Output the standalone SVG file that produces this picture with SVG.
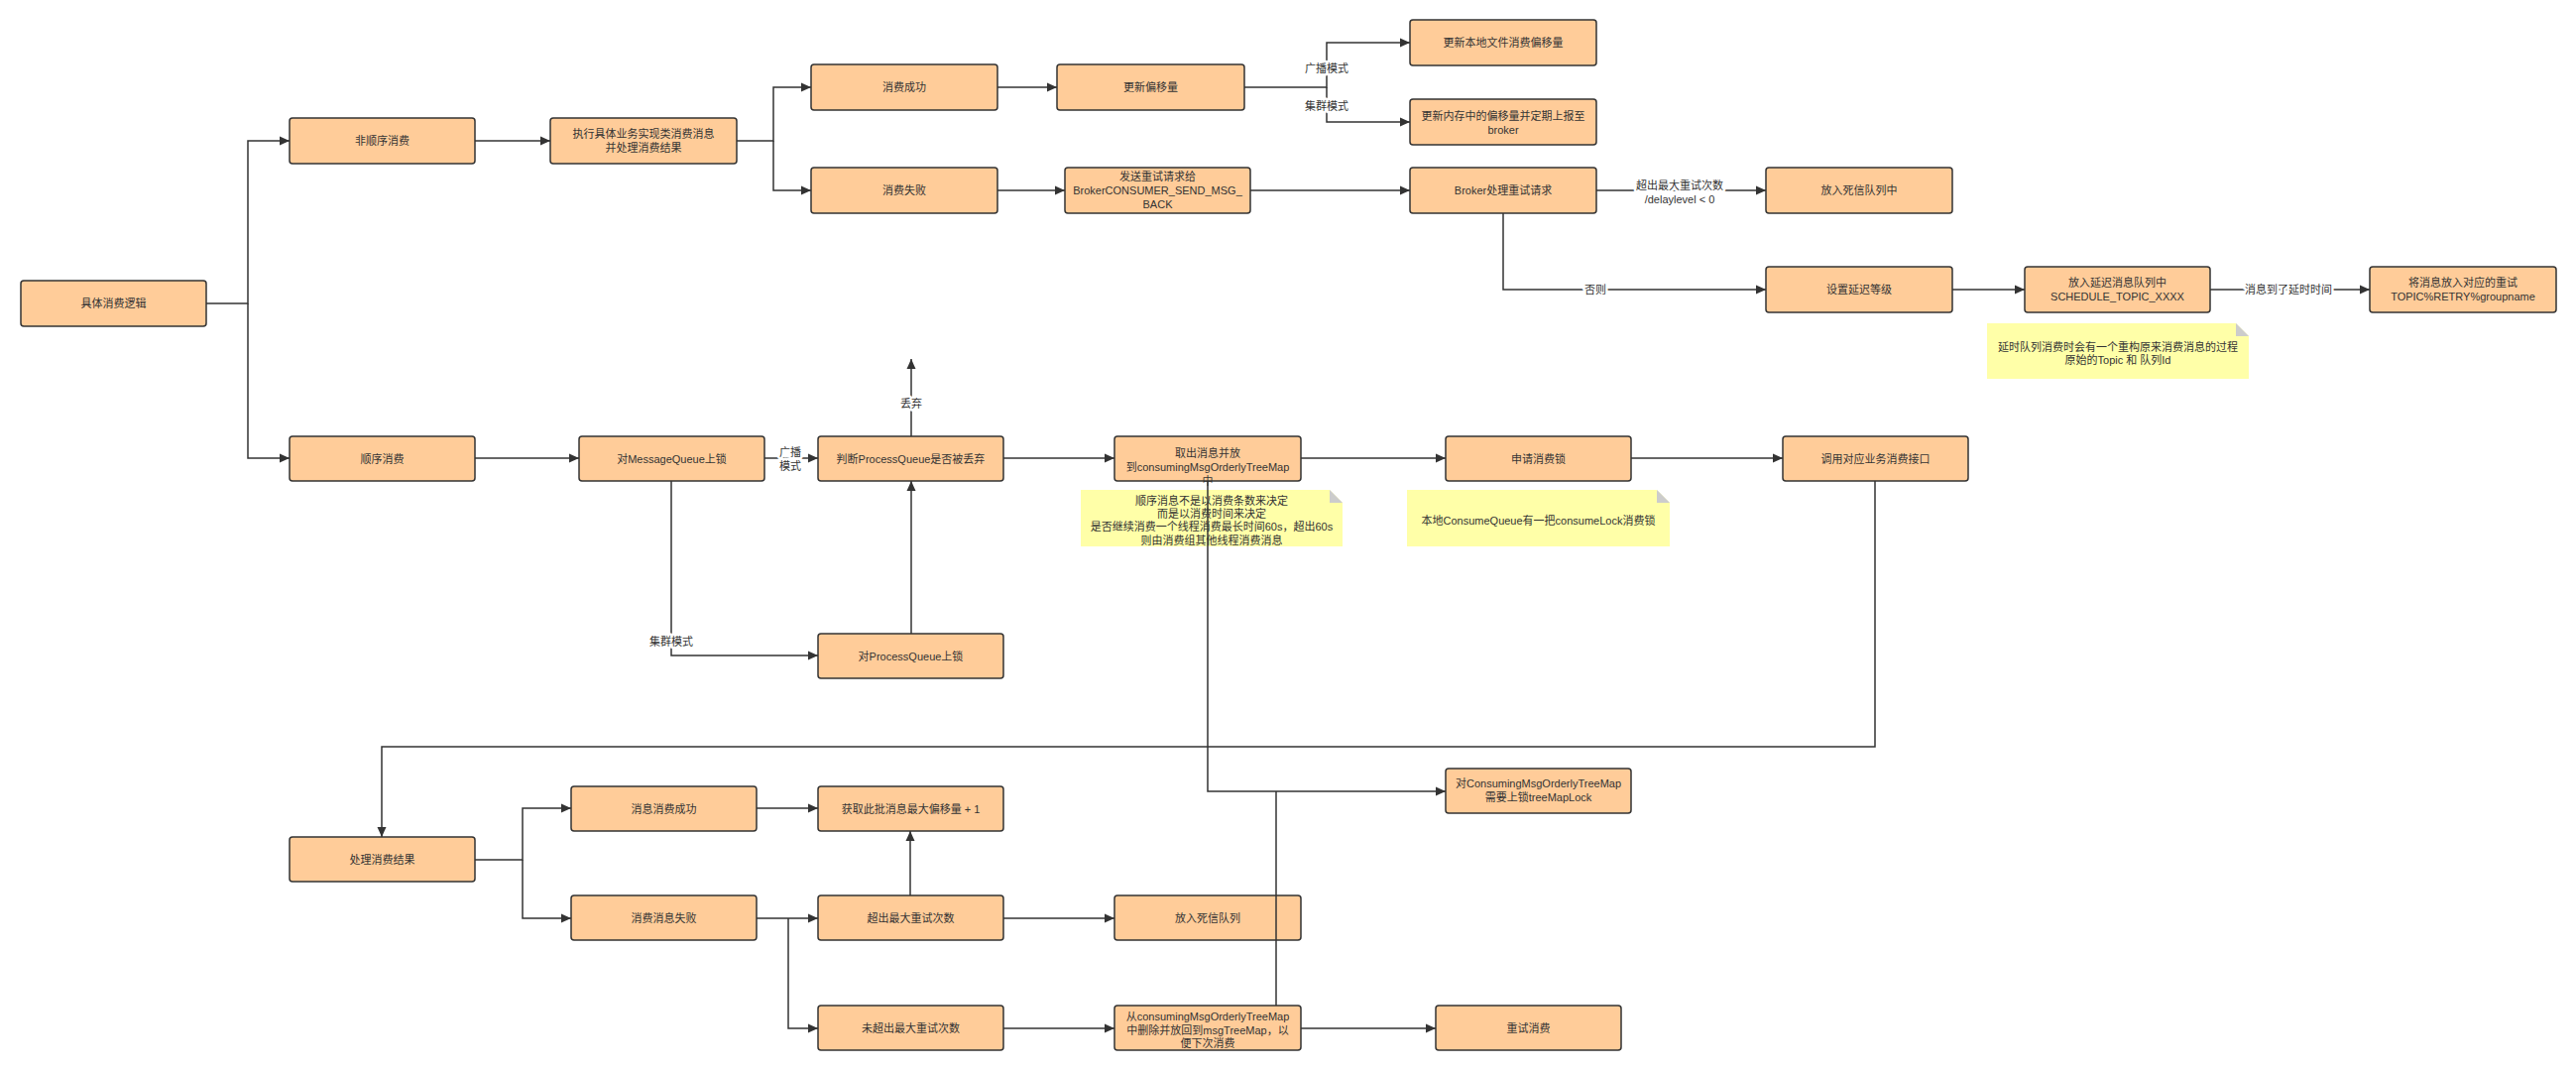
<svg xmlns="http://www.w3.org/2000/svg" width="2598" height="1080" viewBox="0 0 2598 1080">
<defs>
<marker id="ar" viewBox="0 0 10 10" refX="10" refY="5" markerWidth="10" markerHeight="10" markerUnits="userSpaceOnUse" orient="auto">
<path d="M0,0.5 L10,5 L0,9.5 Z" fill="#333"/>
</marker>
<style>
.n rect{fill:#FFCC99;stroke:#333;stroke-width:1.5}
.t{font-family:"Liberation Sans","Noto Sans CJK SC",sans-serif;font-size:11px;fill:#333;text-anchor:middle;dominant-baseline:central}
.c path{fill:none;stroke:#333;stroke-width:1.5}
.c path.a{marker-end:url(#ar)}
.lbl{font-family:"Liberation Sans","Noto Sans CJK SC",sans-serif;font-size:11px;fill:#333;text-anchor:middle;dominant-baseline:central;stroke:#fff;stroke-width:5;paint-order:stroke;stroke-linejoin:round}
.note .b{fill:#FFFFA8}
.note .f{fill:#CCCCCC}
</style>
</defs>
<rect width="2598" height="1080" fill="#fff"/>

<g id="n1" class="n"><rect x="21" y="283" width="187" height="46" rx="3"/><text class="t" x="114.5" y="306">具体消费逻辑</text></g>
<g id="n2" class="n"><rect x="292" y="119" width="187" height="46" rx="3"/><text class="t" x="385.5" y="142">非顺序消费</text></g>
<g id="n3" class="n"><rect x="555" y="119" width="188" height="46" rx="3"/><text class="t" x="649" y="135">执行具体业务实现类消费消息</text><text class="t" x="649" y="149">并处理消费结果</text></g>
<g id="n4" class="n"><rect x="818" y="65" width="188" height="46" rx="3"/><text class="t" x="912" y="88">消费成功</text></g>
<g id="n5" class="n"><rect x="818" y="169" width="188" height="46" rx="3"/><text class="t" x="912" y="192">消费失败</text></g>
<g id="n6" class="n"><rect x="1066" y="65" width="189" height="46" rx="3"/><text class="t" x="1160.5" y="88">更新偏移量</text></g>
<g id="n7" class="n"><rect x="1422" y="20" width="188" height="46" rx="3"/><text class="t" x="1516" y="43">更新本地文件消费偏移量</text></g>
<g id="n8" class="n"><rect x="1422" y="100" width="188" height="46" rx="3"/><text class="t" x="1516" y="117">更新内存中的偏移量并定期上报至</text><text class="t" x="1516" y="131">broker</text></g>
<g id="n9" class="n"><rect x="1074" y="169" width="187" height="46" rx="3"/><text class="t" x="1167.5" y="178">发送重试请求给</text><text class="t" x="1167.5" y="192">BrokerCONSUMER_SEND_MSG_</text><text class="t" x="1167.5" y="206">BACK</text></g>
<g id="n10" class="n"><rect x="1422" y="169" width="188" height="46" rx="3"/><text class="t" x="1516" y="192">Broker处理重试请求</text></g>
<g id="n11" class="n"><rect x="1781" y="169" width="188" height="46" rx="3"/><text class="t" x="1875" y="192">放入死信队列中</text></g>
<g id="n12" class="n"><rect x="1781" y="269" width="188" height="46" rx="3"/><text class="t" x="1875" y="292">设置延迟等级</text></g>
<g id="n13" class="n"><rect x="2042" y="269" width="187" height="46" rx="3"/><text class="t" x="2135.5" y="285">放入延迟消息队列中</text><text class="t" x="2135.5" y="299">SCHEDULE_TOPIC_XXXX</text></g>
<g id="n14" class="n"><rect x="2390" y="269" width="188" height="46" rx="3"/><text class="t" x="2484" y="285">将消息放入对应的重试</text><text class="t" x="2484" y="299">TOPIC%RETRY%groupname</text></g>
<g id="note3" class="note"><path class="b" d="M2004,326 H2255 L2268,339 V382 H2004 Z"/><path class="f" d="M2255,326 V339 H2268 Z"/><text class="t" x="2136" y="350">延时队列消费时会有一个重构原来消费消息的过程</text><text class="t" x="2136" y="363">原始的Topic 和 队列Id</text></g>

<g id="n15" class="n"><rect x="292" y="440" width="187" height="45" rx="3"/><text class="t" x="385.5" y="462.5">顺序消费</text></g>
<g id="n16" class="n"><rect x="584" y="440" width="187" height="45" rx="3"/><text class="t" x="677.5" y="462.5">对MessageQueue上锁</text></g>
<g id="n17" class="n"><rect x="825" y="440" width="187" height="45" rx="3"/><text class="t" x="918.5" y="462.5">判断ProcessQueue是否被丢弃</text></g>
<g id="n18" class="n"><rect x="1124" y="440" width="188" height="45" rx="3"/><text class="t" x="1218" y="457">取出消息并放</text><text class="t" x="1218" y="471">到consumingMsgOrderlyTreeMap</text><text class="t" x="1218" y="485">中</text></g>
<g id="n19" class="n"><rect x="1458" y="440" width="187" height="45" rx="3"/><text class="t" x="1551.5" y="462.5">申请消费锁</text></g>
<g id="n20" class="n"><rect x="1798" y="440" width="187" height="45" rx="3"/><text class="t" x="1891.5" y="462.5">调用对应业务消费接口</text></g>
<g id="note1" class="note"><path class="b" d="M1090,494 H1341 L1354,507 V551 H1090 Z"/><path class="f" d="M1341,494 V507 H1354 Z"/><text class="t" x="1222" y="505">顺序消息不是以消费条数来决定</text><text class="t" x="1222" y="518">而是以消费时间来决定</text><text class="t" x="1222" y="531">是否继续消费一个线程消费最长时间60s，超出60s</text><text class="t" x="1222" y="545">则由消费组其他线程消费消息</text></g>
<g id="note2" class="note"><path class="b" d="M1419,494 H1671 L1684,507 V551 H1419 Z"/><path class="f" d="M1671,494 V507 H1684 Z"/><text class="t" x="1551.5" y="525">本地ConsumeQueue有一把consumeLock消费锁</text></g>
<g id="n21" class="n"><rect x="825" y="639" width="187" height="45" rx="3"/><text class="t" x="918.5" y="661.5">对ProcessQueue上锁</text></g>

<g id="n22" class="n"><rect x="1458" y="775" width="187" height="45" rx="3"/><text class="t" x="1551.5" y="790">对ConsumingMsgOrderlyTreeMap</text><text class="t" x="1551.5" y="804">需要上锁treeMapLock</text></g>
<g id="n23" class="n"><rect x="292" y="844" width="187" height="45" rx="3"/><text class="t" x="385.5" y="866.5">处理消费结果</text></g>
<g id="n24" class="n"><rect x="576" y="793" width="187" height="45" rx="3"/><text class="t" x="669.5" y="815.5">消息消费成功</text></g>
<g id="n25" class="n"><rect x="576" y="903" width="187" height="45" rx="3"/><text class="t" x="669.5" y="925.5">消费消息失败</text></g>
<g id="n26" class="n"><rect x="825" y="793" width="187" height="45" rx="3"/><text class="t" x="918.5" y="815.5">获取此批消息最大偏移量 + 1</text></g>
<g id="n27" class="n"><rect x="825" y="903" width="187" height="45" rx="3"/><text class="t" x="918.5" y="925.5">超出最大重试次数</text></g>
<g id="n28" class="n"><rect x="825" y="1014" width="187" height="45" rx="3"/><text class="t" x="918.5" y="1036.5">未超出最大重试次数</text></g>
<g id="n29" class="n"><rect x="1124" y="903" width="188" height="45" rx="3"/><text class="t" x="1218" y="925.5">放入死信队列</text></g>
<g id="n30" class="n"><rect x="1124" y="1014" width="188" height="45" rx="3"/><text class="t" x="1218" y="1025">从consumingMsgOrderlyTreeMap</text><text class="t" x="1218" y="1039">中删除并放回到msgTreeMap，以</text><text class="t" x="1218" y="1052">便下次消费</text></g>
<g id="n31" class="n"><rect x="1448" y="1014" width="187" height="45" rx="3"/><text class="t" x="1541.5" y="1036.5">重试消费</text></g>

<g id="connectors" class="c">
<path class="a" d="M208,306 H250 V142 H292"/>
<path class="a" d="M250,306 V462 H292"/>
<path class="a" d="M479,142 H555"/>
<path class="a" d="M743,142 H780 V88 H818"/>
<path class="a" d="M780,142 V192 H818"/>
<path class="a" d="M1006,88 H1066"/>
<path class="a" d="M1255,88 H1338 V43 H1422"/>
<path class="a" d="M1338,88 V123 H1422"/>
<path class="a" d="M1006,192 H1074"/>
<path class="a" d="M1261,192 H1422"/>
<path class="a" d="M1610,192 H1781"/>
<path class="a" d="M1516,215 V292 H1781"/>
<path class="a" d="M1969,292 H2042"/>
<path class="a" d="M2229,292 H2390"/>
<path class="a" d="M479,462 H584"/>
<path class="a" d="M771,462 H825"/>
<path class="a" d="M677,485 V661 H825"/>
<path class="a" d="M919,639 V485"/>
<path class="a" d="M919,440 V362"/>
<path class="a" d="M1012,462 H1124"/>
<path class="a" d="M1312,462 H1458"/>
<path class="a" d="M1645,462 H1798"/>
<path class="a" d="M1891,485 V753 H385 V844"/>
<path class="a" d="M1218,485 V798 H1458"/>
<path d="M1287,1014 V798"/>
<path class="a" d="M479,867 H527 V815 H576"/>
<path class="a" d="M527,867 V926 H576"/>
<path class="a" d="M763,815 H825"/>
<path class="a" d="M918,903 V838"/>
<path class="a" d="M763,926 H825"/>
<path class="a" d="M795,926 V1037 H825"/>
<path class="a" d="M1012,926 H1124"/>
<path class="a" d="M1012,1037 H1124"/>
<path class="a" d="M1312,1037 H1448"/>
<text class="lbl" x="1338" y="69">广播模式</text>
<text class="lbl" x="1338" y="107">集群模式</text>
<text class="lbl" x="1694" y="187">超出最大重试次数</text>
<text class="lbl" x="1694" y="201">/delaylevel &lt; 0</text>
<text class="lbl" x="1609" y="292">否则</text>
<text class="lbl" x="2308" y="292">消息到了延时时间</text>
<text class="lbl" x="797" y="456">广播</text>
<text class="lbl" x="797" y="470">模式</text>
<text class="lbl" x="677" y="647">集群模式</text>
<text class="lbl" x="919" y="407">丢弃</text>
</g>
</svg>
